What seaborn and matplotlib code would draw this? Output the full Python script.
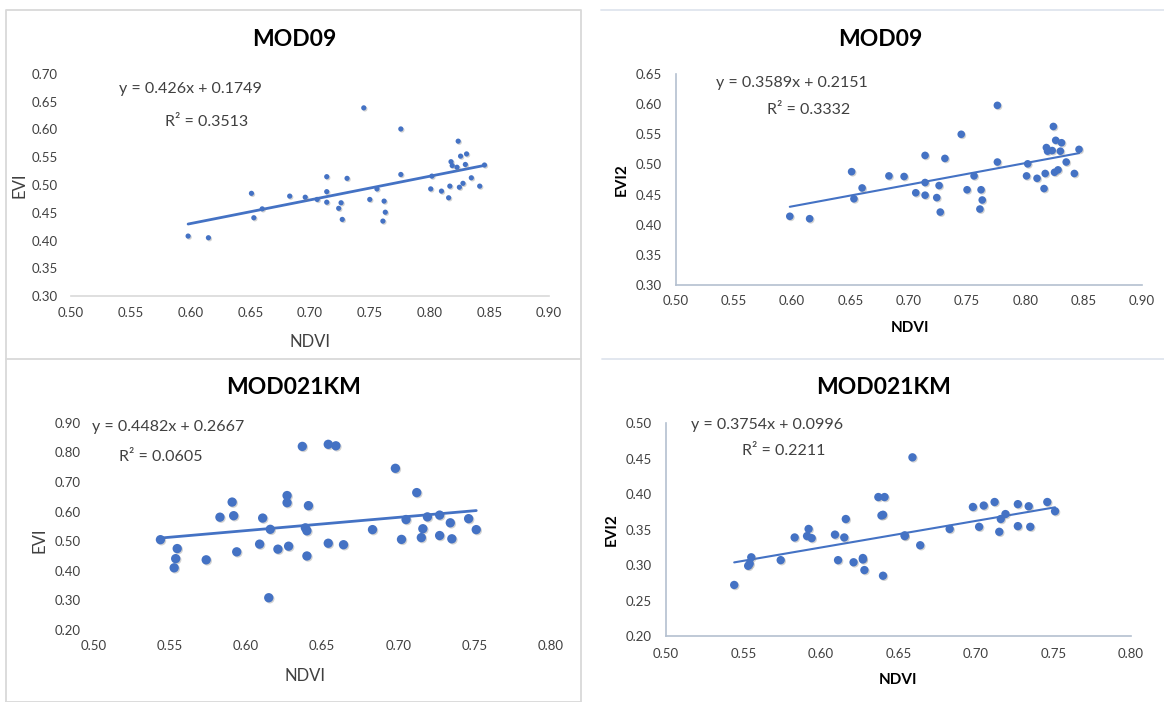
import numpy as np
import pandas as pd
import matplotlib
matplotlib.use("Agg")
import matplotlib.pyplot as plt
import matplotlib.patheffects as pe
from matplotlib.lines import Line2D
import seaborn as sns

# ---------------- data ----------------
ndvi_mod09 = [0.598, 0.615, 0.651, 0.653, 0.660, 0.683, 0.696, 0.706, 0.714, 0.714,
              0.714, 0.724, 0.726, 0.727, 0.731, 0.745, 0.750, 0.756, 0.761, 0.762,
              0.763, 0.776, 0.776, 0.801, 0.802, 0.810, 0.816, 0.817, 0.818, 0.819,
              0.823, 0.824, 0.825, 0.826, 0.828, 0.830, 0.831, 0.835, 0.842, 0.846]
evi_mod09 = [0.408, 0.405, 0.485, 0.441, 0.457, 0.480, 0.478, 0.474, 0.488, 0.515,
             0.469, 0.458, 0.468, 0.438, 0.512, 0.639, 0.474, 0.493, 0.435, 0.471,
             0.451, 0.601, 0.519, 0.493, 0.516, 0.489, 0.477, 0.498, 0.542, 0.535,
             0.532, 0.579, 0.496, 0.552, 0.503, 0.537, 0.556, 0.513, 0.498, 0.536]
evi2_mod09 = [0.414, 0.410, 0.488, 0.443, 0.461, 0.481, 0.480, 0.453, 0.470, 0.515,
              0.449, 0.445, 0.465, 0.421, 0.510, 0.550, 0.458, 0.481, 0.426, 0.458,
              0.441, 0.598, 0.504, 0.481, 0.501, 0.477, 0.460, 0.485, 0.528, 0.522,
              0.523, 0.563, 0.487, 0.540, 0.491, 0.522, 0.536, 0.504, 0.485, 0.525]

ndvi_021km = [0.544, 0.553, 0.554, 0.555, 0.574, 0.583, 0.591, 0.592, 0.594, 0.609,
              0.611, 0.615, 0.616, 0.621, 0.627, 0.627, 0.628, 0.637, 0.639, 0.640,
              0.640, 0.641, 0.654, 0.654, 0.659, 0.664, 0.683, 0.698, 0.702, 0.705,
              0.712, 0.715, 0.716, 0.719, 0.727, 0.727, 0.734, 0.735, 0.746, 0.751]
evi_021km = [0.505, 0.410, 0.441, 0.475, 0.437, 0.581, 0.632, 0.586, 0.464, 0.490,
             0.578, 0.309, 0.540, 0.473, 0.654, 0.630, 0.483, 0.820, 0.545, 0.535,
             0.450, 0.620, 0.827, 0.493, 0.822, 0.488, 0.539, 0.746, 0.506, 0.573,
             0.664, 0.512, 0.542, 0.582, 0.588, 0.519, 0.562, 0.508, 0.576, 0.539]
evi2_021km = [0.272, 0.299, 0.302, 0.311, 0.307, 0.339, 0.341, 0.351, 0.338, 0.343,
              0.307, 0.339, 0.365, 0.304, 0.310, 0.308, 0.293, 0.396, 0.370, 0.371,
              0.285, 0.396, 0.341, 0.342, 0.452, 0.328, 0.351, 0.382, 0.354, 0.384,
              0.389, 0.347, 0.365, 0.372, 0.386, 0.355, 0.383, 0.354, 0.389, 0.376]

titles = ["MOD09", "MOD09", "MOD021KM", "MOD021KM"]
y_names = ["EVI", "EVI2", "EVI", "EVI2"]
slopes = [0.426, 0.3589, 0.4482, 0.3754]
intercepts = [0.1749, 0.2151, 0.2667, 0.0996]
r_squared = ["0.3513", "0.3332", "0.0605", "0.2211"]

# ---------------- style ----------------
sns.set_style("white")
plt.rcParams["font.family"] = ["Lato", "DejaVu Sans"]

W, H = 1164, 702
BLUE = "#4472C4"
TICK_C = "#404040"
AXLINE = "#b4c0d0"

fig = plt.figure(figsize=(W / 100, H / 100), dpi=100)


def fx(px):
    return px / W


def fy(py):
    return 1 - py / H


# chart frames
frame = "#d9d9d9"
for xs, ys, c in [
    ([6, 6, 581, 581, 6], [702, 10, 10, 702, 702], frame),
    ([6, 581], [359, 359], frame),
    ([601, 1164], [10, 10], "#dfe5ee"),
    ([602, 1164], [359, 359], "#dfe5ee"),
]:
    fig.add_artist(Line2D([fx(v) for v in xs], [fy(v) for v in ys],
                          color=c, lw=1.3, transform=fig.transFigure))

panels = [
    dict(x=ndvi_mod09, y=evi_mod09, box=(71, 549, 74, 296), xlim=(0.50, 0.90),
         ylim=(0.30, 0.70), ystep=0.05, s=14, lw=2.0,
         spines=dict(bottom="#d9d9d9"), bold_labels=False,
         title_xy=(294, 40), xlabel_xy=(310, 342), ylabel_xy=(20, 185),
         eq_xy=(190, 89), r2_xy=(207, 122), xpad=8, ypad=9.5),
    dict(x=ndvi_mod09, y=evi2_mod09, box=(675.5, 1142, 74, 285), xlim=(0.50, 0.90),
         ylim=(0.30, 0.65), ystep=0.05, s=30, lw=1.5,
         spines=dict(bottom=AXLINE, left=AXLINE), bold_labels=True,
         title_xy=(880, 40), xlabel_xy=(910, 328), ylabel_xy=(622, 180),
         eq_xy=(792, 83), r2_xy=(809, 110), xpad=7, ypad=10),
    dict(x=ndvi_021km, y=evi_021km, box=(93.3, 551, 422.7, 630), xlim=(0.50, 0.80),
         ylim=(0.20, 0.90), ystep=0.10, s=45, lw=2.0,
         spines=dict(), bold_labels=False,
         title_xy=(294, 388), xlabel_xy=(305, 676), ylabel_xy=(40, 540),
         eq_xy=(168, 427), r2_xy=(161, 457), xpad=7.5, ypad=9),
    dict(x=ndvi_021km, y=evi2_021km, box=(666, 1131, 423.3, 636), xlim=(0.50, 0.80),
         ylim=(0.20, 0.50), ystep=0.05, s=36, lw=1.5,
         spines=dict(bottom=AXLINE, left=AXLINE), bold_labels=True,
         title_xy=(884, 388), xlabel_xy=(898, 680), ylabel_xy=(612, 530),
         eq_xy=(767, 425), r2_xy=(784, 451), xpad=8.5, ypad=10.5),
]

shadow = [pe.SimplePatchShadow(offset=(0.8, -0.8), shadow_rgbFace="#808080", alpha=0.35),
          pe.Normal()]

for i, p in enumerate(panels):
    x0, x1, yt, yb = p["box"]
    ax = fig.add_axes([fx(x0), fy(yb), (x1 - x0) / W, (yb - yt) / H])
    ax.set_facecolor("none")

    df = pd.DataFrame({"NDVI": p["x"], y_names[i]: p["y"]})

    # trend line from the stated regression coefficients
    xs = np.array([df["NDVI"].min(), df["NDVI"].max()])
    trend = pd.DataFrame({"NDVI": xs, "fit": slopes[i] * xs + intercepts[i]})
    sns.lineplot(data=trend, x="NDVI", y="fit", ax=ax, color=BLUE, lw=p["lw"], zorder=2)

    sns.scatterplot(data=df, x="NDVI", y=y_names[i], ax=ax, color=BLUE,
                    s=p["s"], linewidth=0, zorder=3)
    ax.collections[-1].set_path_effects(shadow)

    ax.set_xlim(*p["xlim"])
    ax.set_ylim(*p["ylim"])
    ax.set_xticks(np.round(np.arange(p["xlim"][0], p["xlim"][1] + 1e-9, 0.05), 2))
    ax.set_yticks(np.round(np.arange(p["ylim"][0], p["ylim"][1] + 1e-9, p["ystep"]), 2))
    ax.xaxis.set_major_formatter(matplotlib.ticker.FormatStrFormatter("%.2f"))
    ax.yaxis.set_major_formatter(matplotlib.ticker.FormatStrFormatter("%.2f"))
    ax.tick_params(axis="x", length=0, pad=p["xpad"], labelsize=9.5, labelcolor=TICK_C)
    ax.tick_params(axis="y", length=0, pad=p["ypad"], labelsize=9.5, labelcolor=TICK_C)
    ax.grid(False)

    for side in ["top", "right", "bottom", "left"]:
        if side in p["spines"]:
            ax.spines[side].set_visible(True)
            ax.spines[side].set_color(p["spines"][side])
            ax.spines[side].set_linewidth(1.2)
        else:
            ax.spines[side].set_visible(False)

    # axis labels
    if p["bold_labels"]:
        lab_kw = dict(fontsize=11, fontweight="bold", color="black")
    else:
        lab_kw = dict(fontsize=12, color=TICK_C)
    ax.set_xlabel("NDVI", **lab_kw)
    ax.set_ylabel(y_names[i], **lab_kw)
    tr = ax.transAxes.inverted()
    lx, ly = p["xlabel_xy"]
    ax.xaxis.set_label_coords(*tr.transform(fig.transFigure.transform((fx(lx), fy(ly)))))
    ax.xaxis.label.set_va("center")
    lx, ly = p["ylabel_xy"]
    ax.yaxis.set_label_coords(*tr.transform(fig.transFigure.transform((fx(lx), fy(ly)))))
    ax.yaxis.label.set_va("center")

    # title and regression annotation
    tx, ty = p["title_xy"]
    fig.text(fx(tx), fy(ty), titles[i], ha="center", va="center",
             fontsize=16.5, fontweight="bold", color="black")
    ex, ey = p["eq_xy"]
    fig.text(fx(ex), fy(ey), f"y = {slopes[i]}x + {intercepts[i]}", ha="center",
             va="center", fontsize=11.5, color=TICK_C)
    rx, ry = p["r2_xy"]
    fig.text(fx(rx), fy(ry), f"R² = {r_squared[i]}", ha="center", va="center",
             fontsize=11.5, color=TICK_C)

fig.savefig("out.png", dpi=100, facecolor="white")
